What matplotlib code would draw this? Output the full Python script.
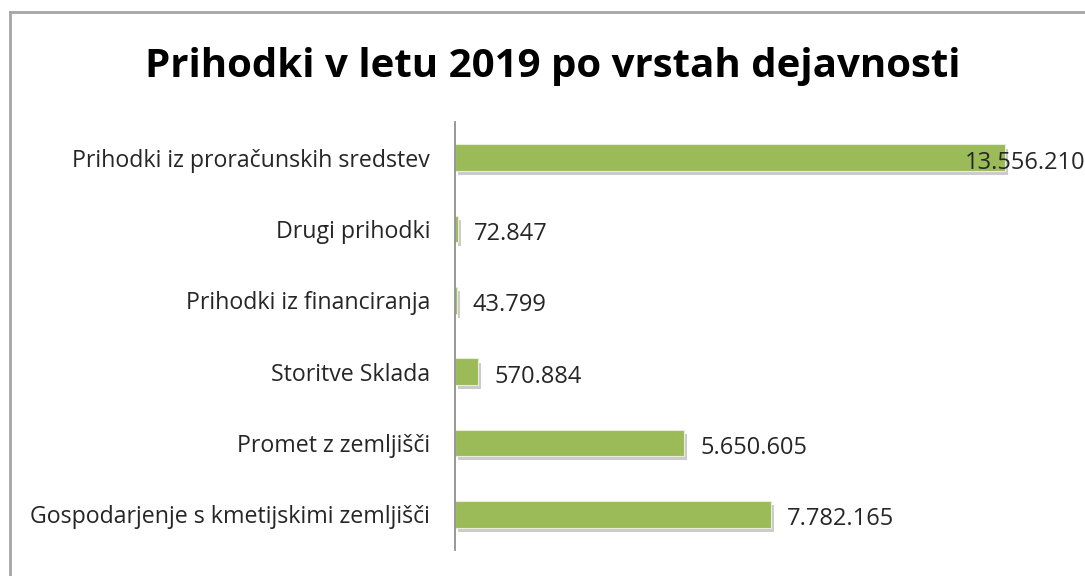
import matplotlib.pyplot as plt
import matplotlib.patheffects as pe
from matplotlib.lines import Line2D

# Podatki
kategorije = [
    'Gospodarjenje s kmetijskimi zemljišči',
    'Promet z zemljišči',
    'Storitve Sklada',
    'Prihodki iz financiranja',
    'Drugi prihodki',
    'Prihodki iz proračunskih sredstev',
]
vrednosti = [7782165, 5650605, 570884, 43799, 72847, 13556210]

plt.rcParams['font.family'] = ['Open Sans', 'DejaVu Sans']

fig = plt.figure(figsize=(10.85, 5.76), dpi=100)
ax = fig.add_axes([0.4194, 0.0451, 0.5609, 0.7431])

senca = [pe.SimplePatchShadow(offset=(2, -3), shadow_rgbFace='#7f7f7f', alpha=0.4), pe.Normal()]
bars = ax.barh(range(len(kategorije)), vrednosti, height=0.37, color='#9bbb59',
               edgecolor='#e6efd5', linewidth=0.8)
for b in bars:
    b.set_path_effects(senca)

ax.set_xlim(0, 15e6)
ax.set_ylim(-0.5, len(kategorije) - 0.5)
ax.set_yticks(range(len(kategorije)))
ax.set_yticklabels(kategorije, fontsize=16.7, color='#262626')
for t in ax.get_yticklabels():
    t.set_va('center_baseline')
ax.tick_params(axis='y', length=0, pad=18)
ax.set_xticks([])
for s in ['top', 'right', 'bottom']:
    ax.spines[s].set_visible(False)
ax.spines['left'].set_color('#868686')
ax.spines['left'].set_linewidth(1.2)

najvecja = max(vrednosti)
for i, v in enumerate(vrednosti):
    besedilo = f'{v:,}'.replace(',', '.')
    odmik = -40 if v == najvecja else 16
    ax.annotate(besedilo, (v, i), xytext=(odmik, -2), textcoords='offset pixels',
                ha='left', va='center_baseline', fontsize=17, color='#262626',
                annotation_clip=False)

fig.text(0.5097, 0.885, 'Prihodki v letu 2019 po vrstah dejavnosti', ha='center',
         va='center', fontsize=29, fontweight='bold', color='black')

# okvir grafikona
fig.add_artist(Line2D([9.5 / 1085, 1], [1 - 11.5 / 576, 1 - 11.5 / 576],
                      transform=fig.transFigure, color='#a6a6a6', lw=2))
fig.add_artist(Line2D([9.5 / 1085, 9.5 / 1085], [0, 1 - 11.5 / 576],
                      transform=fig.transFigure, color='#a6a6a6', lw=2))

fig.savefig('out.png', dpi=100)
